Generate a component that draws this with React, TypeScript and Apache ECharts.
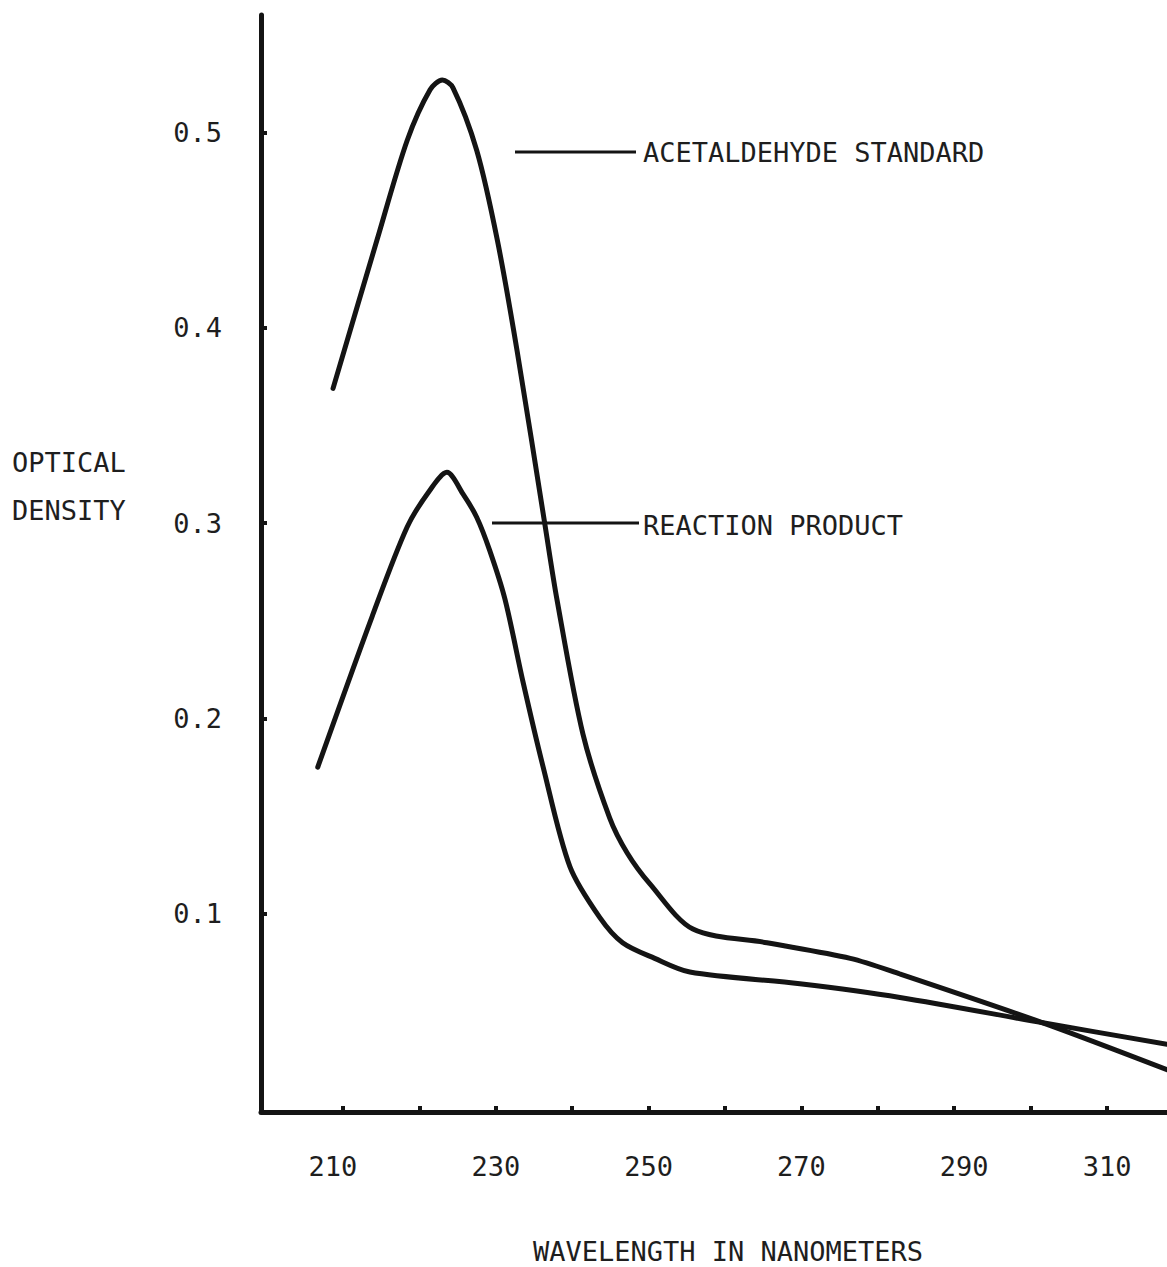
import React, { useEffect, useRef } from 'react';
import * as echarts from 'echarts';

// Acetaldehyde standard spectrum (wavelength nm, optical density)
const acetWavelength = [208.7, 214.45, 218.4, 221.4, 223.0, 224.4, 227.5, 230.2, 232.8, 236.4, 238.0, 241.4, 244.9, 247.2, 250.2, 255.8, 265.5, 276.4, 282.9, 301.6, 317.85];
const acetOD = [0.369, 0.445, 0.496, 0.522, 0.527, 0.523, 0.491, 0.445, 0.388, 0.300, 0.261, 0.192, 0.149, 0.131, 0.115, 0.092, 0.085, 0.077, 0.069, 0.044, 0.020];

// Reaction product spectrum
const productWavelength = [206.7, 213.8, 218.4, 221.4, 223.6, 225.7, 227.5, 229.2, 231.2, 233.6, 236.2, 239.7, 243.6, 246.6, 250.8, 255.4, 269.8, 282.9, 301.6, 317.85];
const productOD = [0.175, 0.252, 0.298, 0.317, 0.326, 0.315, 0.303, 0.286, 0.261, 0.218, 0.175, 0.124, 0.098, 0.085, 0.077, 0.070, 0.064, 0.057, 0.044, 0.033];

const xTickValues = [210, 220, 230, 240, 250, 260, 270, 280, 290, 300, 310];
const xLabelValues = [210, 230, 250, 270, 290, 310];
const yTickValues = [0.1, 0.2, 0.3, 0.4, 0.5];

const FONT = 'DejaVu Sans Mono';
const INK = '#141414';
const TEXT = '#1e1e1e';

export default function App() {
  const ref = useRef<HTMLDivElement>(null);
  useEffect(() => {
    const chart = echarts.init(ref.current!, null, { renderer: 'svg' });
    const acetData = acetWavelength.map((w, i) => [w, acetOD[i]]);
    const productData = productWavelength.map((w, i) => [w, productOD[i]]);
    chart.setOption({
      animation: false,
      backgroundColor: '#ffffff',
      grid: { left: 261, right: 0, top: 15, bottom: 155 },
      xAxis: {
        type: 'value',
        min: 199.27,
        max: 317.85,
        axisLine: { show: true, onZero: false, lineStyle: { color: INK, width: 5, cap: 'round' } },
        axisTick: { show: true, inside: true, length: 6, lineStyle: { color: INK, width: 4 }, customValues: xTickValues },
        axisLabel: {
          show: true,
          customValues: xLabelValues,
          margin: 41,
          fontFamily: FONT,
          fontSize: 27,
          color: TEXT,
          formatter: (v: number) => {
            if (v === 210) return '{l|210}';
            if (v === 290) return '{r|290}';
            return String(v);
          },
          rich: {
            l: { fontFamily: FONT, fontSize: 27, color: TEXT, padding: [0, 20, 0, 0] },
            r: { fontFamily: FONT, fontSize: 27, color: TEXT, padding: [0, 0, 0, 20] },
          },
        },
        splitLine: { show: false },
      },
      yAxis: {
        type: 'value',
        min: -0.0017,
        max: 0.5603,
        axisLine: { show: true, onZero: false, lineStyle: { color: INK, width: 5, cap: 'round' } },
        axisTick: { show: true, inside: true, length: 6, lineStyle: { color: INK, width: 4 }, customValues: yTickValues },
        axisLabel: {
          show: true,
          customValues: yTickValues,
          margin: 39,
          fontFamily: FONT,
          fontSize: 27,
          color: TEXT,
          formatter: (v: number) => v.toFixed(1),
        },
        splitLine: { show: false },
      },
      series: [
        {
          name: 'ACETALDEHYDE STANDARD',
          type: 'line',
          data: acetData,
          smooth: 0.3,
          showSymbol: false,
          lineStyle: { color: INK, width: 5, cap: 'round', join: 'round' },
        },
        {
          name: 'REACTION PRODUCT',
          type: 'line',
          data: productData,
          smooth: 0.3,
          showSymbol: false,
          lineStyle: { color: INK, width: 5, cap: 'round', join: 'round' },
        },
      ],
      graphic: [
        { type: 'line', shape: { x1: 515, y1: 152, x2: 636, y2: 152 }, style: { stroke: INK, lineWidth: 3 } },
        { type: 'text', x: 643, y: 152, style: { text: 'ACETALDEHYDE STANDARD', font: `27px "${FONT}"`, fill: TEXT, textAlign: 'left', textVerticalAlign: 'middle' } },
        { type: 'line', shape: { x1: 492, y1: 523, x2: 639, y2: 523 }, style: { stroke: INK, lineWidth: 3 } },
        { type: 'text', x: 643, y: 525, style: { text: 'REACTION PRODUCT', font: `27px "${FONT}"`, fill: TEXT, textAlign: 'left', textVerticalAlign: 'middle' } },
        { type: 'text', x: 12, y: 462, style: { text: 'OPTICAL', font: `27px "${FONT}"`, fill: TEXT, textAlign: 'left', textVerticalAlign: 'middle' } },
        { type: 'text', x: 12, y: 510, style: { text: 'DENSITY', font: `27px "${FONT}"`, fill: TEXT, textAlign: 'left', textVerticalAlign: 'middle' } },
        { type: 'text', x: 728, y: 1251, style: { text: 'WAVELENGTH IN NANOMETERS', font: `27px "${FONT}"`, fill: TEXT, textAlign: 'center', textVerticalAlign: 'middle' } },
      ],
    });
    return () => chart.dispose();
  }, []);
  return (
    <div
      ref={ref}
      style={{ position: 'absolute', left: 0, top: 0, width: 1167, height: 1267, background: '#fff' }}
    />
  );
}
